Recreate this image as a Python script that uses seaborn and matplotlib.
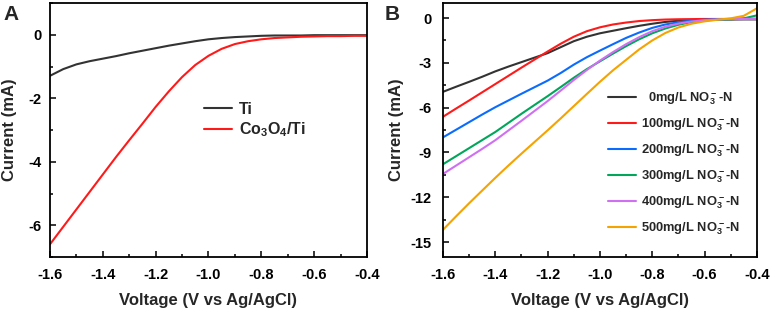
import matplotlib
matplotlib.use("Agg")
import matplotlib.pyplot as plt
import numpy as np
import pandas as pd
import seaborn as sns
from matplotlib.ticker import MultipleLocator

# voltage grid (V vs Ag/AgCl), shared by every curve
voltage = [-1.60, -1.55, -1.50, -1.45, -1.40, -1.35, -1.30, -1.25, -1.20, -1.15,
           -1.10, -1.05, -1.00, -0.95, -0.90, -0.85, -0.80, -0.75, -0.70, -0.65,
           -0.60, -0.55, -0.50, -0.45, -0.40]

# panel A
ti = [-1.29, -1.08, -0.93, -0.83, -0.75, -0.67, -0.58, -0.50, -0.42, -0.34,
      -0.27, -0.20, -0.14, -0.10, -0.07, -0.05, -0.03, -0.02, -0.02, -0.02,
      -0.01, -0.01, -0.01, -0.01, -0.01]
co3o4_ti = [-6.60, -6.05, -5.50, -4.95, -4.40, -3.85, -3.32, -2.80, -2.27, -1.78,
            -1.33, -0.95, -0.66, -0.44, -0.29, -0.20, -0.14, -0.10, -0.08, -0.06,
            -0.05, -0.04, -0.04, -0.03, -0.03]

# panel B
no3_0 = [-4.94, -4.60, -4.27, -3.93, -3.57, -3.25, -2.95, -2.65, -2.35, -1.95,
         -1.55, -1.25, -1.02, -0.85, -0.68, -0.52, -0.38, -0.26, -0.18, -0.13,
         -0.11, -0.10, -0.10, -0.09, -0.09]
no3_100 = [-6.61, -6.06, -5.52, -4.97, -4.42, -3.87, -3.32, -2.78, -2.24, -1.72,
           -1.25, -0.88, -0.62, -0.43, -0.30, -0.20, -0.14, -0.10, -0.08, -0.07,
           -0.06, -0.06, -0.06, -0.06, -0.06]
no3_200 = [-7.99, -7.48, -6.97, -6.46, -5.97, -5.52, -5.07, -4.63, -4.19, -3.68,
           -3.12, -2.62, -2.18, -1.75, -1.33, -0.97, -0.66, -0.43, -0.28, -0.17,
           -0.11, -0.08, -0.06, -0.05, -0.05]
no3_300 = [-9.79, -9.25, -8.71, -8.17, -7.63, -7.02, -6.41, -5.82, -5.23, -4.62,
           -4.00, -3.42, -2.90, -2.38, -1.88, -1.42, -1.02, -0.70, -0.45, -0.27,
           -0.16, -0.11, -0.08, -0.02, 0.18]
no3_400 = [-10.44, -9.88, -9.32, -8.76, -8.18, -7.53, -6.88, -6.22, -5.56, -4.86,
           -4.15, -3.48, -2.85, -2.28, -1.75, -1.28, -0.88, -0.58, -0.37, -0.23,
           -0.14, -0.09, -0.07, -0.06, -0.05]
no3_500 = [-14.18, -13.28, -12.40, -11.55, -10.70, -9.88, -9.08, -8.30, -7.52, -6.72,
           -5.90, -5.08, -4.27, -3.50, -2.80, -2.10, -1.50, -1.00, -0.63, -0.38,
           -0.22, -0.11, -0.02, 0.15, 0.65]

labels_a = ["Ti", "Co$_3$O$_4$/Ti"]
colors_a = ["#333333", "#ff1a1a"]

concentrations = ["  0", "100", "200", "300", "400", "500"]
labels_b = [f"{c}mg/L NO$_3^-$-N" for c in concentrations]
colors_b = ["#333333", "#ff1a1a", "#0a6cff", "#00a65a", "#cf70f2", "#f5a300"]

sns.set_style("ticks")
plt.rcParams["font.family"] = ["Liberation Sans", "DejaVu Sans"]
plt.rcParams["font.weight"] = "bold"
plt.rcParams["mathtext.fontset"] = "custom"
plt.rcParams["mathtext.rm"] = "Liberation Sans:bold"
plt.rcParams["mathtext.bf"] = "Liberation Sans:bold"
plt.rcParams["mathtext.default"] = "rm"


def style_axes(ax, ymin, ymax, ymajor, ypad, ylabelpad):
    ax.set_xlim(-1.6, -0.4)
    ax.set_ylim(ymin, ymax)
    ax.xaxis.set_major_locator(MultipleLocator(0.2))
    ax.xaxis.set_minor_locator(MultipleLocator(0.1))
    ax.yaxis.set_major_locator(MultipleLocator(ymajor))
    ax.yaxis.set_minor_locator(MultipleLocator(ymajor / 2))
    ax.xaxis.set_major_formatter(matplotlib.ticker.FormatStrFormatter("%.1f"))
    ax.yaxis.set_major_formatter(matplotlib.ticker.FormatStrFormatter("%d"))
    ax.tick_params(which="both", direction="in", width=1.1, colors="black",
                   labelsize=10.5)
    ax.tick_params(which="major", length=4)
    ax.tick_params(which="minor", length=2.5)
    ax.tick_params(axis="x", pad=8)
    ax.tick_params(axis="y", pad=ypad)
    for lab in ax.get_xticklabels() + ax.get_yticklabels():
        lab.set_fontweight("bold")
    for sp in ax.spines.values():
        sp.set_linewidth(1.3)
        sp.set_color("black")
    ax.set_xlabel("Voltage (V vs Ag/AgCl)", fontsize=12, fontweight="bold", labelpad=8)
    ax.set_ylabel("Current (mA)", fontsize=12, fontweight="bold", labelpad=ylabelpad)


fig = plt.figure(figsize=(7.75, 3.13), dpi=100)
ax_a = fig.add_axes([0.0645, 0.179, 0.409, 0.811])
ax_b = fig.add_axes([0.5716, 0.179, 0.405, 0.811])

# panel A
for series, lab, col in zip([ti, co3o4_ti], labels_a, colors_a):
    sns.lineplot(x=voltage, y=series, ax=ax_a, color=col, label=lab, linewidth=1.5)
style_axes(ax_a, -7, 1, 2, ypad=6, ylabelpad=8)
ax_a.legend(loc="upper left", bbox_to_anchor=(0.485, 0.612), frameon=False,
            fontsize=11.5, handlelength=1.75, handletextpad=0.45,
            labelspacing=0.25, borderpad=0, borderaxespad=0)

# panel B
series_b = [no3_0, no3_100, no3_200, no3_300, no3_400, no3_500]
for series, lab, col in zip(series_b, labels_b, colors_b):
    sns.lineplot(x=voltage, y=series, ax=ax_b, color=col, label=lab, linewidth=1.5)
style_axes(ax_b, -16, 1, 3, ypad=8, ylabelpad=5)
ax_b.legend(loc="upper left", bbox_to_anchor=(0.525, 0.655), frameon=False,
            fontsize=9.3, handlelength=2.2, handletextpad=0.4,
            labelspacing=0.72, borderpad=0, borderaxespad=0)

fig.text(0.004, 0.985, "A", fontsize=15, fontweight="bold", va="top", ha="left")
fig.text(0.496, 0.985, "B", fontsize=15, fontweight="bold", va="top", ha="left")

fig.savefig("out.png", dpi=100)
